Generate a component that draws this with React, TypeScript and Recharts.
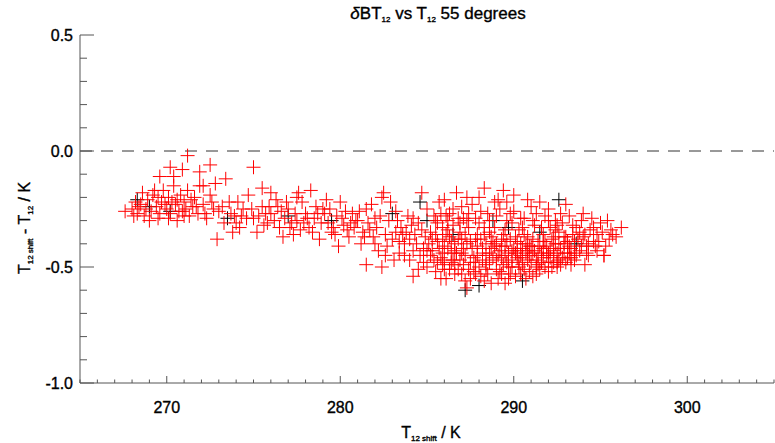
import React from 'react';
import { ScatterChart, Scatter, XAxis, YAxis, ReferenceLine } from 'recharts';

// axis ticks (IDL style: minor ticks everywhere, labels on majors only)
const xTicks = [265, 266, 267, 268, 269, 270, 271, 272, 273, 274, 275, 276, 277, 278, 279, 280, 281, 282, 283, 284, 285, 286, 287, 288, 289, 290, 291, 292, 293, 294, 295, 296, 297, 298, 299, 300, 301, 302, 303, 304, 305];
const xLabelled = [270, 280, 290, 300];
const yTicks = [-1.0, -0.9, -0.8, -0.7, -0.6, -0.5, -0.4, -0.3, -0.2, -0.1, 0.0, 0.1, 0.2, 0.3, 0.4, 0.5];
const yLabelled = [-1.0, -0.5, 0.0, 0.5];

// [T12 shift (K), T12 shift - T12 (K)]
const redCold: [number, number][] = [
  [267.6, -0.26], [268.0, -0.25], [268.3, -0.27], [268.5, -0.23], [268.7, -0.28], [268.9, -0.21], [269.1, -0.26],
  [269.2, -0.19], [269.4, -0.24], [269.5, -0.29], [269.7, -0.22], [269.8, -0.17], [270.0, -0.25], [270.1, -0.20],
  [270.2, -0.27], [270.4, -0.15], [270.5, -0.23], [270.6, -0.30], [270.8, -0.19], [270.9, -0.26], [271.0, -0.22],
  [271.2, -0.17], [271.3, -0.28], [271.5, -0.24], [271.6, -0.20], [271.8, -0.27], [271.9, -0.15], [272.1, -0.23],
  [272.3, -0.29], [272.5, -0.19], [272.7, -0.25], [268.2, -0.22], [268.8, -0.25], [269.0, -0.30], [269.6, -0.27],
  [270.3, -0.22], [270.7, -0.26], [271.1, -0.25], [271.4, -0.21], [269.3, -0.17], [268.6, -0.18],
  [270.2, -0.07], [271.2, -0.02], [272.5, -0.06], [275.0, -0.07], [270.9, -0.08], [269.6, -0.11], [271.9, -0.09],
  [270.4, -0.11], [272.1, -0.15], [272.8, -0.14], [273.4, -0.12], [272.9, -0.38],
  [268.4, -0.24], [269.9, -0.23], [270.6, -0.21], [271.7, -0.24], [272.2, -0.27], [272.6, -0.22], [269.5, -0.20],
  [270.1, -0.29], [271.0, -0.28], [268.1, -0.28],
];

const redMid: [number, number][] = [
  [273.0, -0.26], [273.3, -0.31], [273.6, -0.22], [273.9, -0.28], [274.2, -0.33], [274.4, -0.25], [274.7, -0.19],
  [275.0, -0.29], [275.2, -0.35], [275.5, -0.24], [275.8, -0.31], [276.0, -0.27], [276.3, -0.21], [276.5, -0.33],
  [276.8, -0.29], [277.0, -0.25], [277.3, -0.36], [277.5, -0.30], [277.8, -0.22], [278.0, -0.27], [278.2, -0.33],
  [278.5, -0.29], [278.8, -0.38], [279.0, -0.25], [279.3, -0.31], [279.5, -0.35], [279.8, -0.28], [280.0, -0.22],
  [280.2, -0.32], [280.5, -0.37], [280.7, -0.27], [281.0, -0.30], [281.2, -0.40], [281.5, -0.25], [281.7, -0.34],
  [282.0, -0.29], [282.2, -0.43], [282.4, -0.20], [276.0, -0.18], [277.5, -0.20], [279.2, -0.21], [274.0, -0.31],
  [275.7, -0.27], [278.6, -0.24], [280.8, -0.33], [281.8, -0.23], [273.8, -0.35], [276.7, -0.37], [279.9, -0.41],
  [277.2, -0.31], [280.3, -0.26], [282.6, -0.36], [275.5, -0.16], [278.3, -0.17], [277.6, -0.18],
  [273.2, -0.24], [273.7, -0.27], [274.1, -0.22], [274.6, -0.29], [274.9, -0.25], [275.3, -0.28], [275.9, -0.24],
  [276.2, -0.30], [276.6, -0.26], [277.1, -0.33], [277.4, -0.27], [277.9, -0.31], [278.1, -0.29], [278.4, -0.35],
  [278.9, -0.31], [279.1, -0.27], [279.6, -0.33], [280.1, -0.29], [280.4, -0.34], [280.9, -0.30], [281.3, -0.35],
  [281.6, -0.31], [281.9, -0.37], [282.1, -0.33], [282.3, -0.28],
  [274.3, -0.28], [275.6, -0.32], [276.4, -0.24], [277.7, -0.34], [278.7, -0.27], [279.7, -0.36], [280.6, -0.31],
  [281.4, -0.37], [282.0, -0.40], [281.1, -0.26], [279.4, -0.25], [276.9, -0.22],
];

const redEdge: [number, number][] = [
  [282.5, -0.18], [282.4, -0.50], [281.5, -0.49], [282.8, -0.30], [283.0, -0.38], [283.2, -0.26], [283.4, -0.44],
  [283.5, -0.33], [283.7, -0.40], [283.9, -0.28], [284.0, -0.47], [284.2, -0.54], [284.3, -0.36], [284.5, -0.31],
  [284.7, -0.18], [284.8, -0.42], [285.0, -0.25], [285.0, -0.50], [283.1, -0.47], [282.9, -0.22], [283.6, -0.36],
  [284.1, -0.32], [284.6, -0.45], [282.7, -0.41], [283.3, -0.30], [282.6, -0.45], [283.8, -0.35], [283.4, -0.39],
  [284.2, -0.43], [284.0, -0.38], [284.8, -0.48], [284.5, -0.51], [285.0, -0.43], [284.7, -0.34], [284.2, -0.29],
  [283.7, -0.45], [283.2, -0.35],
];

const redCore: [number, number][] = [
  [285.2, -0.35], [285.3, -0.43], [285.4, -0.28], [285.5, -0.52], [285.6, -0.39], [285.7, -0.22], [285.8, -0.46],
  [285.9, -0.33], [286.0, -0.41], [286.1, -0.55], [286.2, -0.30], [286.3, -0.37], [286.4, -0.48], [286.5, -0.25],
  [286.6, -0.43], [286.7, -0.18], [286.8, -0.51], [286.9, -0.35], [287.0, -0.44], [287.1, -0.29], [287.2, -0.56],
  [287.3, -0.59], [287.3, -0.40], [287.4, -0.33], [287.5, -0.48], [287.6, -0.23], [287.7, -0.52], [287.8, -0.38],
  [287.9, -0.45], [288.0, -0.31], [288.1, -0.54], [288.2, -0.42], [288.3, -0.16], [288.3, -0.36], [288.4, -0.49],
  [288.5, -0.27], [288.6, -0.44], [288.7, -0.57], [288.8, -0.39], [288.9, -0.33], [289.0, -0.47], [289.1, -0.21],
  [289.2, -0.52], [289.3, -0.41], [289.4, -0.17], [289.4, -0.36], [289.5, -0.57], [289.5, -0.45], [289.6, -0.30],
  [289.7, -0.50], [289.8, -0.38], [289.9, -0.43], [290.0, -0.26], [290.1, -0.54], [290.2, -0.46], [290.3, -0.34],
  [290.4, -0.40], [290.5, -0.49], [290.6, -0.29], [290.7, -0.44], [290.8, -0.37], [290.9, -0.52], [291.0, -0.41],
  [291.1, -0.54], [291.2, -0.32], [291.3, -0.47], [291.4, -0.39], [291.5, -0.22], [291.6, -0.44], [291.7, -0.36],
  [291.8, -0.50], [291.9, -0.41], [292.0, -0.30], [292.1, -0.46], [292.2, -0.38], [292.3, -0.43], [292.4, -0.34],
  [292.5, -0.48], [292.6, -0.40], [292.7, -0.49], [292.8, -0.31], [292.9, -0.44], [293.0, -0.37], [293.1, -0.42],
  [293.2, -0.28], [293.3, -0.46], [293.5, -0.39], [293.6, -0.33], [293.8, -0.43], [294.0, -0.27], [294.0, -0.37],
  [294.2, -0.41], [294.4, -0.34], [294.6, -0.39], [294.8, -0.36], [295.0, -0.31], [295.2, -0.45], [295.4, -0.30],
  [295.5, -0.38], [295.7, -0.36], [296.2, -0.33], [295.9, -0.37],
];

const redCoreFill: [number, number][] = [
  [285.1, -0.40], [285.6, -0.31], [286.0, -0.47], [286.4, -0.39], [286.8, -0.29], [287.1, -0.49], [287.6, -0.42],
  [288.0, -0.50], [288.4, -0.40], [288.8, -0.46], [289.2, -0.43], [289.6, -0.48], [290.0, -0.42], [290.4, -0.45],
  [290.8, -0.47], [291.2, -0.43], [291.6, -0.48], [292.0, -0.44], [292.4, -0.40], [292.8, -0.46], [293.2, -0.41],
  [293.6, -0.45], [285.4, -0.47], [285.9, -0.38], [286.3, -0.51], [286.7, -0.44], [287.2, -0.36], [287.8, -0.53],
  [288.2, -0.47], [288.6, -0.35], [289.0, -0.51], [289.4, -0.49], [289.8, -0.53], [290.2, -0.39], [290.6, -0.51],
  [291.0, -0.48], [291.4, -0.45], [291.8, -0.39], [292.2, -0.50], [292.6, -0.35], [293.0, -0.48], [293.4, -0.36],
  [294.3, -0.45], [286.2, -0.34], [287.0, -0.38], [287.9, -0.41], [288.7, -0.42], [289.3, -0.38], [290.1, -0.37],
  [290.9, -0.41], [291.7, -0.42], [292.3, -0.37], [293.1, -0.39], [285.8, -0.27], [286.5, -0.32], [287.4, -0.27],
  [288.1, -0.26], [289.0, -0.28], [289.9, -0.31], [290.5, -0.33], [291.3, -0.27], [292.1, -0.33], [292.7, -0.27],
  [293.9, -0.30], [288.5, -0.53], [289.1, -0.55], [290.3, -0.50], [290.7, -0.55], [291.5, -0.51], [286.6, -0.53],
  [287.5, -0.55], [285.2, -0.45], [284.9, -0.37], [284.4, -0.40], [288.9, -0.22], [290.0, -0.19], [291.0, -0.24],
  [292.0, -0.25], [293.0, -0.23], [287.3, -0.20], [286.0, -0.21], [294.5, -0.29], [294.8, -0.43], [294.1, -0.49],
  [295.2, -0.45],
];

const redCoreDense: [number, number][] = [
  [285.3, -0.38], [285.7, -0.42], [285.9, -0.49], [286.1, -0.36], [286.4, -0.44], [286.6, -0.40], [286.9, -0.47],
  [287.1, -0.42], [287.4, -0.51], [287.7, -0.46], [287.9, -0.36], [288.2, -0.44], [288.4, -0.51], [288.6, -0.48],
  [288.9, -0.41], [289.1, -0.45], [289.3, -0.53], [289.5, -0.41], [289.7, -0.44], [289.9, -0.47], [290.1, -0.44],
  [290.3, -0.48], [290.5, -0.42], [290.7, -0.40], [290.9, -0.45], [291.1, -0.44], [291.3, -0.50], [291.5, -0.41],
  [291.7, -0.46], [291.9, -0.45], [292.1, -0.42], [292.3, -0.48], [292.5, -0.44], [292.7, -0.42], [292.9, -0.40],
  [293.1, -0.46], [293.3, -0.42], [293.5, -0.44], [293.7, -0.38], [293.9, -0.41], [294.1, -0.36], [294.3, -0.40],
  [294.6, -0.33], [294.9, -0.39], [295.1, -0.35], [295.3, -0.41], [295.6, -0.34],
  [286.3, -0.27], [287.0, -0.24], [287.8, -0.29], [288.6, -0.30], [289.2, -0.25], [289.8, -0.27], [290.4, -0.29],
  [291.1, -0.30], [291.8, -0.28], [292.4, -0.30], [293.4, -0.32], [288.0, -0.20], [289.6, -0.22], [290.8, -0.21],
  [285.5, -0.30], [286.9, -0.31],
  [286.0, -0.51], [287.0, -0.53], [288.3, -0.56], [289.7, -0.55], [290.4, -0.53], [291.3, -0.53], [292.0, -0.52],
  [292.5, -0.50], [293.3, -0.49], [286.6, -0.49], [285.6, -0.48], [285.8, -0.55],
  [285.5, -0.36], [285.9, -0.44], [286.2, -0.42], [286.5, -0.47], [286.8, -0.38], [287.2, -0.45], [287.5, -0.39],
  [287.8, -0.48], [288.1, -0.38], [288.4, -0.45], [288.7, -0.37], [289.0, -0.40], [289.3, -0.46], [289.6, -0.39],
  [289.9, -0.50], [290.2, -0.43], [290.5, -0.46], [290.8, -0.43], [291.1, -0.38], [291.4, -0.49], [291.7, -0.39],
  [292.0, -0.48], [292.3, -0.45], [292.6, -0.47], [292.9, -0.37], [293.2, -0.44], [293.5, -0.47], [293.8, -0.35],
  [294.2, -0.44], [294.7, -0.41], [286.1, -0.28], [287.3, -0.30], [288.3, -0.33], [289.5, -0.34], [290.6, -0.36],
  [291.6, -0.33], [292.5, -0.32],
];

const blackPts: [number, number][] = [
  [268.3, -0.21], [269.0, -0.24], [270.2, -0.26], [273.5, -0.29], [277.0, -0.28], [279.5, -0.30], [283.0, -0.27],
  [285.0, -0.30], [286.5, -0.36], [287.2, -0.60], [288.8, -0.30], [290.5, -0.56], [291.5, -0.35], [292.6, -0.21],
  [293.6, -0.40], [288.0, -0.58], [284.6, -0.22], [289.7, -0.33],
];

const toRows = (pts: [number, number][]) => pts.map(([t, d]) => ({ t, d }));
const redData = toRows([...redCold, ...redMid, ...redEdge, ...redCore, ...redCoreFill, ...redCoreDense]);
const blackData = toRows(blackPts);

const FONT = "'Liberation Sans', Arial, Helvetica, sans-serif";
const FRAME = '#555';
const isMajor = (list: number[], v: number) => list.some((m) => Math.abs(m - v) < 1e-6);

const Plus = (color: string) => (props: any) => {
  const { cx, cy } = props;
  if (cx == null || cy == null) return <g />;
  return (
    <g stroke={color} strokeWidth={1}>
      <line x1={cx - 7} x2={cx + 7} y1={cy} y2={cy} />
      <line x1={cx} x2={cx} y1={cy - 7} y2={cy + 7} />
    </g>
  );
};

const labelText = { fontFamily: FONT, fontSize: 16, fill: '#000', stroke: '#000', strokeWidth: 0.35 };

const BottomTick = (props: any) => {
  const { x, y, payload } = props;
  const major = isMajor(xLabelled, payload.value);
  return (
    <g>
      <line x1={x} x2={x} y1={y} y2={y - (major ? 7 : 3.5)} stroke={FRAME} />
      {major && (
        <text x={x} y={y + 24} dy="0.35em" textAnchor="middle" {...labelText}>
          {payload.value}
        </text>
      )}
    </g>
  );
};

const TopTick = (props: any) => {
  const { x, y, payload } = props;
  const major = isMajor(xLabelled, payload.value);
  return <line x1={x} x2={x} y1={y} y2={y + (major ? 7 : 3.5)} stroke={FRAME} />;
};

const LeftTick = (props: any) => {
  const { x, y, payload } = props;
  const major = isMajor(yLabelled, payload.value);
  return (
    <g>
      <line x1={x} x2={x + (major ? 14 : 7)} y1={y} y2={y} stroke={FRAME} />
      {major && (
        <text x={x - 7} y={y} dy="0.35em" textAnchor="end" {...labelText}>
          {payload.value.toFixed(1)}
        </text>
      )}
    </g>
  );
};

const RightTick = (props: any) => {
  const { x, y, payload } = props;
  const major = isMajor(yLabelled, payload.value);
  return <line x1={x} x2={x - (major ? 14 : 7)} y1={y} y2={y} stroke={FRAME} />;
};

const sub: React.CSSProperties = { fontSize: 8, verticalAlign: -3 };
const heavy: React.CSSProperties = { WebkitTextStroke: '0.35px #000' };

export default function App() {
  return (
    <div style={{ position: 'absolute', left: 0, top: 0, width: 775, height: 443, background: '#fff', fontFamily: FONT }}>
      <ScatterChart width={775} height={443} margin={{ top: 35, right: 1, bottom: 0, left: 0 }}>
        <XAxis
          xAxisId="b"
          type="number"
          dataKey="t"
          domain={[265, 305]}
          ticks={xTicks}
          interval={0}
          allowDataOverflow
          height={60}
          tickSize={0}
          tickMargin={0}
          tickLine={false}
          tick={<BottomTick />}
          axisLine={{ stroke: FRAME }}
        />
        <XAxis
          xAxisId="top"
          orientation="top"
          type="number"
          domain={[265, 305]}
          ticks={xTicks}
          interval={0}
          allowDataOverflow
          height={0}
          tickSize={0}
          tickMargin={0}
          tickLine={false}
          tick={<TopTick />}
          axisLine={{ stroke: FRAME }}
        />
        <YAxis
          yAxisId="l"
          type="number"
          dataKey="d"
          domain={[-1, 0.5]}
          ticks={yTicks}
          interval={0}
          allowDataOverflow
          width={80}
          tickSize={0}
          tickMargin={0}
          tickLine={false}
          tick={<LeftTick />}
          axisLine={{ stroke: FRAME }}
        />
        <YAxis
          yAxisId="r"
          orientation="right"
          type="number"
          domain={[-1, 0.5]}
          ticks={yTicks}
          interval={0}
          allowDataOverflow
          width={0}
          tickSize={0}
          tickMargin={0}
          tickLine={false}
          tick={<RightTick />}
          axisLine={{ stroke: FRAME }}
        />
        <ReferenceLine xAxisId="b" yAxisId="l" y={0} stroke="#333" strokeDasharray="12 9" />
        <Scatter xAxisId="b" yAxisId="l" data={blackData} shape={Plus('#000')} isAnimationActive={false} />
        <Scatter xAxisId="b" yAxisId="l" data={redData} shape={Plus('#ff0000')} isAnimationActive={false} />
      </ScatterChart>

      <div style={{ ...heavy, position: 'absolute', left: 438, top: 14, transform: 'translate(-50%, -50%)', fontSize: 17, whiteSpace: 'nowrap' }}>
        <i>δ</i>BT<span style={sub}>12</span> vs T<span style={sub}>12</span> 55 degrees
      </div>
      <div style={{ ...heavy, position: 'absolute', left: 431, top: 433, transform: 'translate(-50%, -50%)', fontSize: 16, whiteSpace: 'nowrap' }}>
        T<span style={sub}>12 shift</span> / K
      </div>
      <div style={{ ...heavy, position: 'absolute', left: 25, top: 228, transform: 'translate(-50%, -50%) rotate(-90deg)', fontSize: 16, whiteSpace: 'nowrap' }}>
        T<span style={sub}>12 shift</span> - T<span style={sub}>12</span> / K
      </div>
    </div>
  );
}
